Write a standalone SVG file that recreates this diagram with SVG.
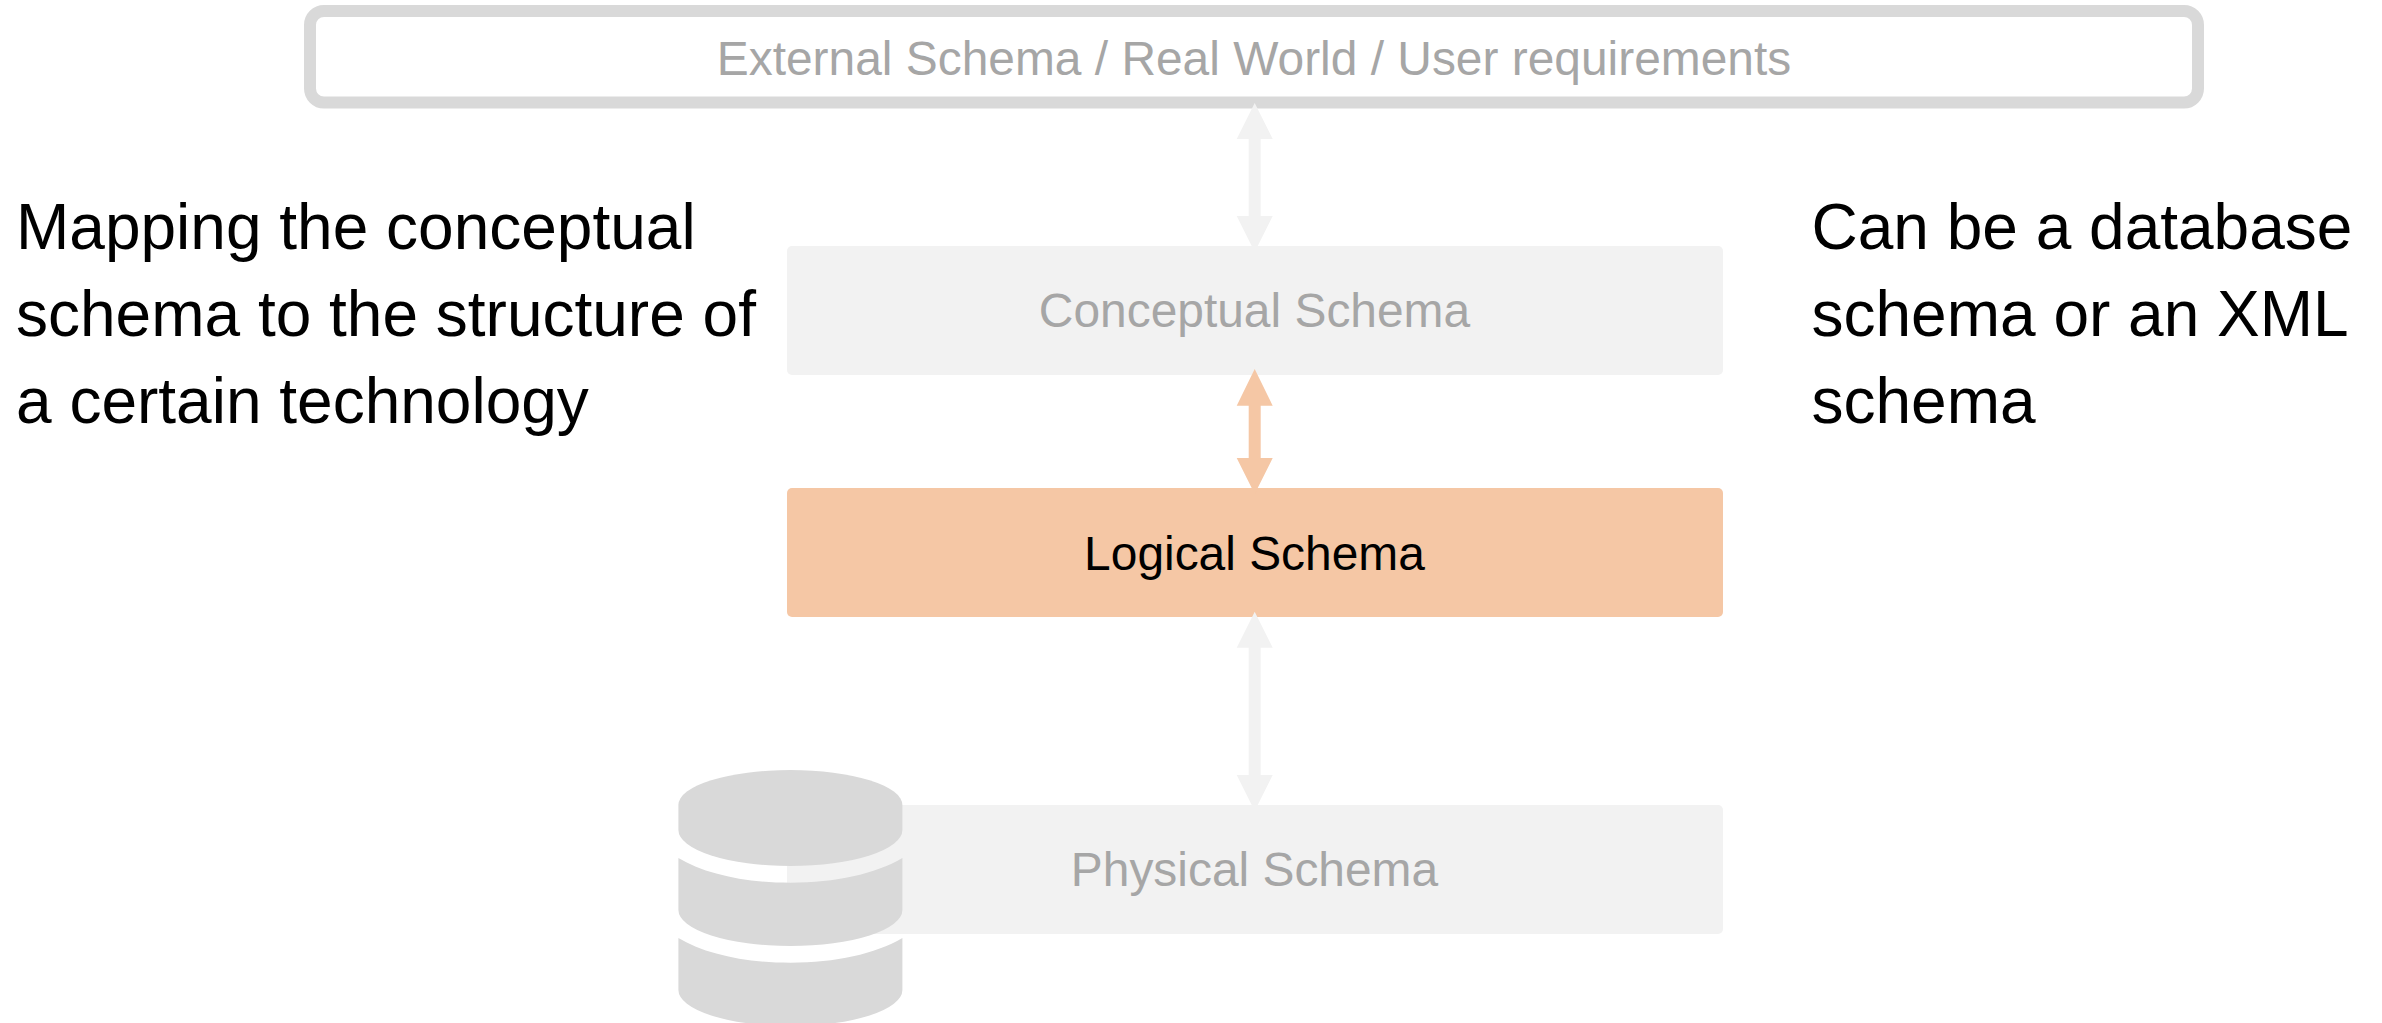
<svg xmlns="http://www.w3.org/2000/svg" width="2382" height="1023" viewBox="0 0 2382 1023">
<style>
text{font-family:"Liberation Sans",Arial,sans-serif}
.lbl{font-size:47.900px;text-anchor:middle}
.big{font-size:64px;fill:#000}
.mute{fill:#a6a6a6}
.pale{fill:#f2f2f2}
.org{fill:#f5c7a5}
.gry{fill:#d9d9d9}
</style>
<rect width="2382" height="1023" fill="#fff"/>
<g id="external"><rect x="310" y="11" width="1888" height="91.500" rx="14" fill="#fff" stroke="#d9d9d9" stroke-width="12"/><text class="lbl mute" x="1254" y="75">External Schema / Real World / User requirements</text></g>
<g id="conceptual"><rect class="pale" x="787" y="246" width="936" height="129" rx="5"/><text class="lbl mute" x="1254.500" y="327">Conceptual Schema</text></g>
<g id="logical"><rect class="org" x="787" y="488" width="936" height="129" rx="5"/><text class="lbl" x="1254.500" y="570" fill="#000">Logical Schema</text></g>
<g id="physical"><rect class="pale" x="787" y="805" width="936" height="129" rx="5"/><text class="lbl mute" x="1254.500" y="886">Physical Schema</text></g>
<g id="database" class="gry">
<path d="M678.400 805A112 35 0 0 1 902.400 805V830A112 36 0 0 1 678.400 830Z"/>
<path d="M678.400 858C705 874 745 882.700 790.400 882.700S875 874 902.400 858V910A112 36 0 0 1 678.400 910Z"/>
<path d="M678.400 938C705 954 745 962.700 790.400 962.700S875 954 902.400 938V990A112 36 0 0 1 678.400 990Z"/>
</g>
<g id="connectors">
<path class="pale" d="M1254.700 103L1272.700 139H1260.700V216H1272.700L1254.700 252L1236.700 216H1248.700V139H1236.700Z"/>
<path class="org" d="M1254.700 369L1272.700 405.700H1260.700V458H1272.700L1254.700 494L1236.700 458H1248.700V405.700H1236.700Z"/>
<path class="pale" d="M1254.700 611.700L1272.700 647.700H1260.700V775H1272.700L1254.700 811L1236.700 775H1248.700V647.700H1236.700Z"/>
</g>
<g id="notes">
<text class="big" x="16" y="248.500">Mapping the conceptual</text>
<text class="big" x="16" y="335.800">schema to the structure of</text>
<text class="big" x="16" y="423">a certain technology</text>
<text class="big" x="1811.500" y="248.500">Can be a database</text>
<text class="big" x="1811.500" y="335.800">schema or an XML</text>
<text class="big" x="1811.500" y="423">schema</text>
</g>
</svg>
